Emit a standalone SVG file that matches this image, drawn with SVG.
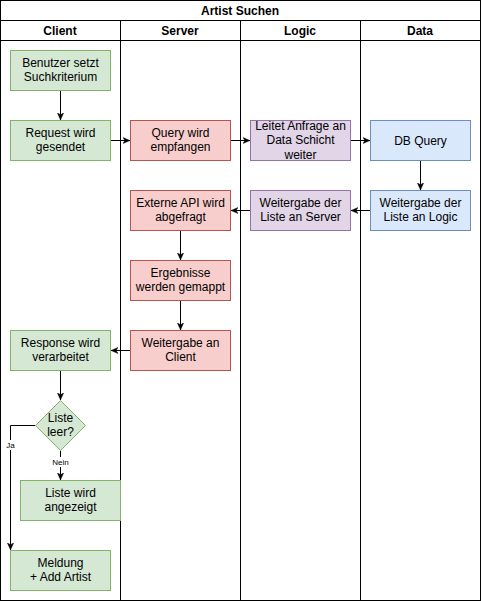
<svg xmlns="http://www.w3.org/2000/svg" width="482" height="601" viewBox="0 0 482 601">
<defs>
<style>
text{font-family:"Liberation Sans",Arial,Helvetica,sans-serif;font-size:12px;fill:#000;text-anchor:middle}
.h{font-weight:bold}
.lbl{font-size:8px}
.lane{fill:none;stroke:#000;stroke-width:1}
.g{fill:#d5e8d4;stroke:#82b366}
.r{fill:#f8cecc;stroke:#b85450}
.p{fill:#e1d5e7;stroke:#9673a6}
.b{fill:#dae8fc;stroke:#6c8ebf}
.e{fill:none;stroke:#000;stroke-width:1;marker-end:url(#arr)}
</style>
<marker id="arr" viewBox="0 0 10 10" refX="9" refY="5" markerWidth="8" markerHeight="8" markerUnits="userSpaceOnUse" orient="auto">
<path d="M0,1 L9,5 L0,9 L2.5,5 z" fill="#000" stroke="#000" stroke-width="0.5"/>
</marker>
</defs>
<rect width="482" height="601" fill="#fff"/>
<g id="pool">
<rect class="lane" x="0.5" y="0.5" width="480" height="600"/>
<line class="lane" x1="0.5" y1="20.5" x2="480.5" y2="20.5"/>
<line class="lane" x1="0.5" y1="40.5" x2="480.5" y2="40.5"/>
<line class="lane" x1="120.5" y1="20.5" x2="120.5" y2="600.5"/>
<line class="lane" x1="240.5" y1="20.5" x2="240.5" y2="600.5"/>
<line class="lane" x1="360.5" y1="20.5" x2="360.5" y2="600.5"/>
<text class="h" x="240" y="14.5">Artist Suchen</text>
<text class="h" x="60" y="34.5">Client</text>
<text class="h" x="180" y="34.5">Server</text>
<text class="h" x="300" y="34.5">Logic</text>
<text class="h" x="420" y="34.5">Data</text>
</g>
<g id="edges">
<line class="e" x1="60.5" y1="90.5" x2="60.5" y2="120"/>
<line class="e" x1="110.5" y1="140.5" x2="130" y2="140.5"/>
<line class="e" x1="230.5" y1="140.5" x2="250" y2="140.5"/>
<line class="e" x1="350.5" y1="140.5" x2="370" y2="140.5"/>
<line class="e" x1="420.5" y1="160.5" x2="420.5" y2="190"/>
<line class="e" x1="370.5" y1="210.5" x2="351" y2="210.5"/>
<line class="e" x1="250.5" y1="210.5" x2="231" y2="210.5"/>
<line class="e" x1="180.5" y1="230.5" x2="180.5" y2="260"/>
<line class="e" x1="180.5" y1="300.5" x2="180.5" y2="330"/>
<line class="e" x1="130.5" y1="350.5" x2="111" y2="350.5"/>
<line class="e" x1="60.5" y1="370.5" x2="60.5" y2="400"/>
<line class="e" x1="60.5" y1="450.5" x2="60.5" y2="480"/>
<polyline class="e" points="35.5,425.5 10.5,425.5 10.5,550"/>
<rect x="50" y="457" width="21" height="10" fill="#fff"/>
<text class="lbl" x="60.5" y="465">Nein</text>
<rect x="4" y="440" width="14" height="10" fill="#fff"/>
<text class="lbl" x="10.5" y="448">Ja</text>
</g>
<g id="n1"><rect class="g" x="10.5" y="50.5" width="100" height="40"/><text x="60.5" y="67">Benutzer setzt</text><text x="60.5" y="81">Suchkriterium</text></g>
<g id="n2"><rect class="g" x="10.5" y="120.5" width="100" height="40"/><text x="60.5" y="137">Request wird</text><text x="60.5" y="151">gesendet</text></g>
<g id="n3"><rect class="r" x="130.5" y="120.5" width="100" height="40"/><text x="180.5" y="137">Query wird</text><text x="180.5" y="151">empfangen</text></g>
<g id="n4"><rect class="p" x="250.5" y="120.5" width="100" height="40"/><text x="300.5" y="129.5">Leitet Anfrage an</text><text x="300.5" y="144">Data Schicht</text><text x="300.5" y="158.5">weiter</text></g>
<g id="n5"><rect class="b" x="370.5" y="120.5" width="100" height="40"/><text x="420.5" y="144.5">DB Query</text></g>
<g id="n6"><rect class="b" x="370.5" y="190.5" width="100" height="40"/><text x="420.5" y="207">Weitergabe der</text><text x="420.5" y="221">Liste an Logic</text></g>
<g id="n7"><rect class="p" x="250.5" y="190.5" width="100" height="40"/><text x="300.5" y="207">Weitergabe der</text><text x="300.5" y="221">Liste an Server</text></g>
<g id="n8"><rect class="r" x="130.5" y="190.5" width="100" height="40"/><text x="180.5" y="207">Externe API wird</text><text x="180.5" y="221">abgefragt</text></g>
<g id="n9"><rect class="r" x="130.5" y="260.5" width="100" height="40"/><text x="180.5" y="277">Ergebnisse</text><text x="180.5" y="291">werden gemappt</text></g>
<g id="n10"><rect class="r" x="130.5" y="330.5" width="100" height="40"/><text x="180.5" y="347">Weitergabe an</text><text x="180.5" y="361">Client</text></g>
<g id="n11"><rect class="g" x="10.5" y="330.5" width="100" height="40"/><text x="60.5" y="347">Response wird</text><text x="60.5" y="361">verarbeitet</text></g>
<g id="n12"><polygon class="g" points="60.5,400.5 85.5,425.5 60.5,450.5 35.5,425.5"/><text x="60.5" y="422">Liste</text><text x="60.5" y="436">leer?</text></g>
<g id="n13"><rect class="g" x="20.5" y="480.5" width="100" height="40"/><text x="70.5" y="497">Liste wird</text><text x="70.5" y="511">angezeigt</text></g>
<g id="n14"><rect class="g" x="10.5" y="550.5" width="100" height="40"/><text x="60.5" y="567">Meldung</text><text x="60.5" y="581">+ Add Artist</text></g>
</svg>
